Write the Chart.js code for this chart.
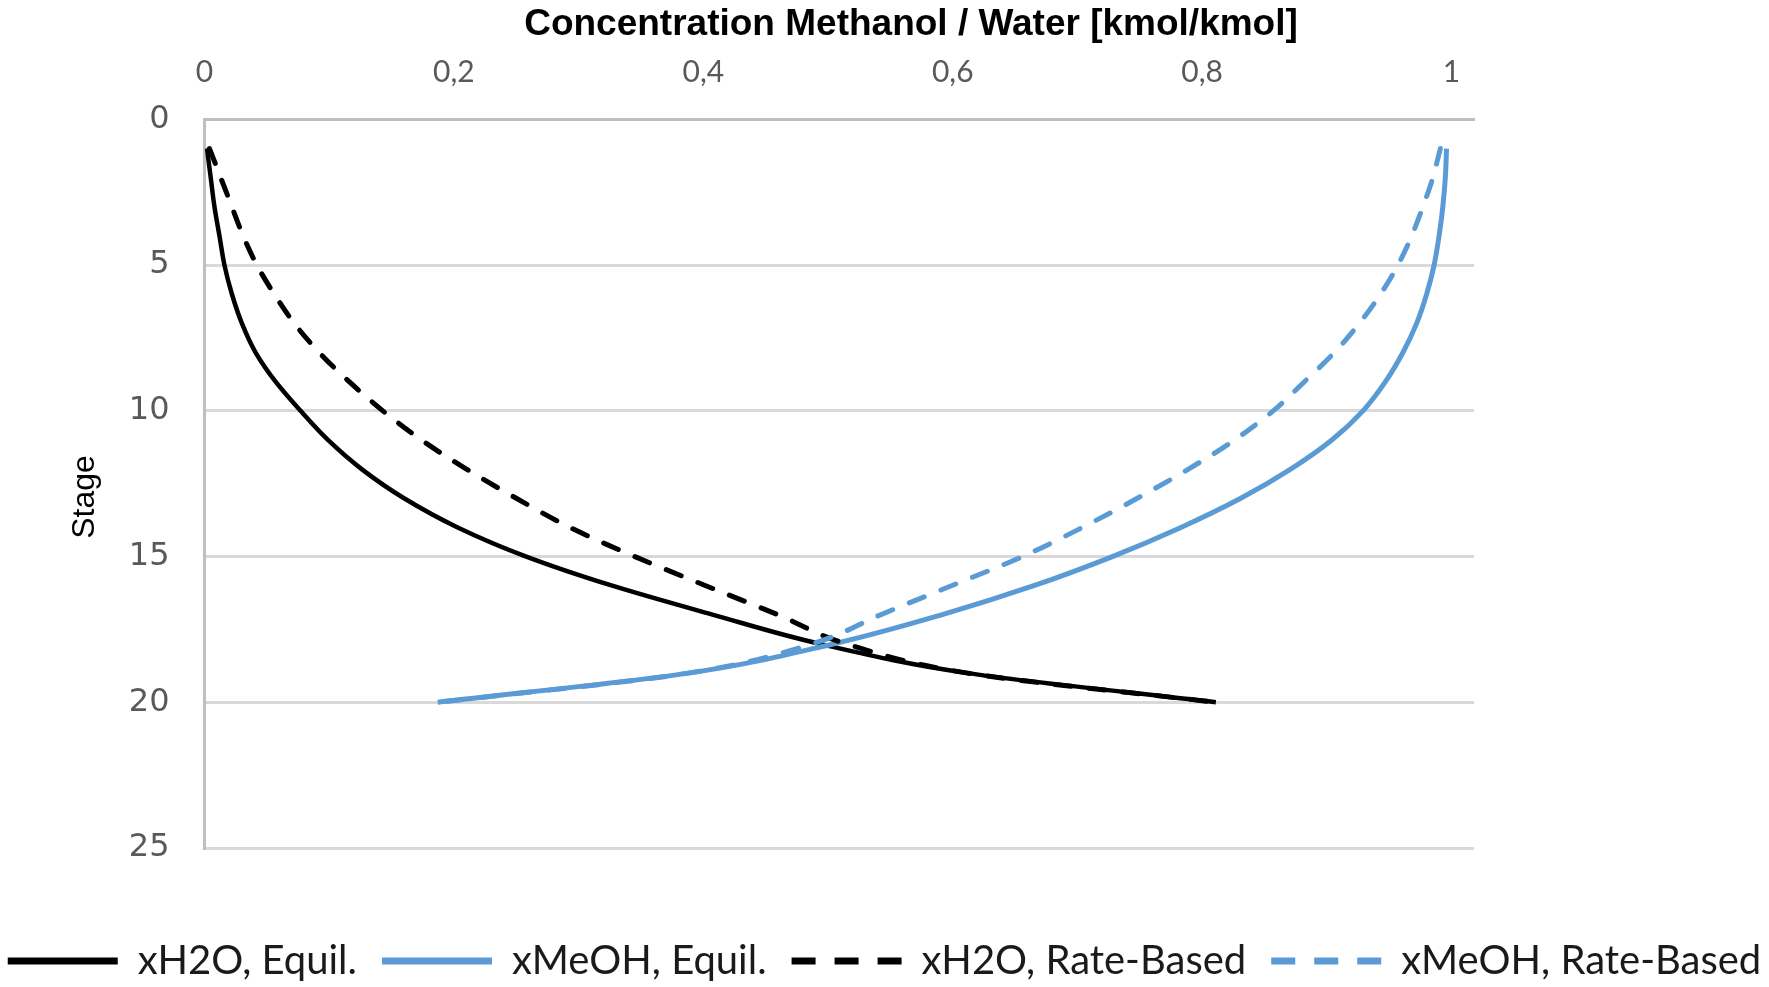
<!DOCTYPE html>
<html><head><meta charset="utf-8">
<script src="https://cdn.jsdelivr.net/npm/chart.js@4"></script>
<style>html,body{margin:0;padding:0;background:#fff;overflow:hidden}</style>
</head><body>
<canvas id="c" width="1769" height="987"></canvas>
<script>
const stages = [1,2,3,4,5,6,7,8,9,10,11,12,13,14,15,16,17,18,19,20];
const xH2O_equil  = [0.002,0.005,0.008,0.012,0.016,0.022,0.030,0.041,0.057,0.077,0.099,0.126,0.160,0.203,0.258,0.327,0.408,0.494,0.612,0.811];
const xMeOH_equil = [0.996,0.995,0.993,0.990,0.986,0.980,0.972,0.961,0.947,0.929,0.904,0.871,0.831,0.783,0.728,0.665,0.591,0.504,0.388,0.187];
const xH2O_rate   = [0.004,0.013,0.022,0.031,0.042,0.056,0.072,0.092,0.116,0.143,0.174,0.210,0.250,0.293,0.345,0.402,0.460,0.515,0.612,0.811];
const xMeOH_rate  = [0.991,0.985,0.977,0.968,0.957,0.943,0.926,0.906,0.882,0.857,0.826,0.789,0.748,0.704,0.656,0.599,0.542,0.487,0.388,0.187];
const seriesNames = ['xH2O, Equil.', 'xMeOH, Equil.', 'xH2O, Rate-Based', 'xMeOH, Rate-Based'];
const xTicks = [0, 0.2, 0.4, 0.6, 0.8, 1];
const yTicks = [0, 5, 10, 15, 20, 25];
const chartTitle = 'Concentration Methanol / Water [kmol/kmol]';
const yTitle = 'Stage';

const BLACK = '#000000', BLUE = '#5b9bd5';
const legendDash = [[], [], [24, 19], [24, 19]];

function pts(xs) { return stages.map((s, i) => ({ x: xs[i], y: s })); }

const titleShift = {
  id: 'titleShift',
  afterLayout(chart) {
    const t = chart.titleBlock;
    if (t) { t.left = 53; t.right = 1769; }
  }
};

new Chart(document.getElementById('c'), {
  type: 'line',
  data: {
    datasets: [
      { label: seriesNames[0], data: pts(xH2O_equil), borderColor: BLACK, backgroundColor: BLACK, borderWidth: 4.5, order: 3 },
      { label: seriesNames[1], data: pts(xMeOH_equil), borderColor: BLUE, backgroundColor: BLUE, borderWidth: 5, order: 2 },
      { label: seriesNames[2], data: pts(xH2O_rate), borderColor: BLACK, backgroundColor: BLACK, borderWidth: 5, borderDash: [16, 18], borderCapStyle: 'round', order: 1 },
      { label: seriesNames[3], data: pts(xMeOH_rate), borderColor: BLUE, backgroundColor: BLUE, borderWidth: 5, borderDash: [16, 18], borderCapStyle: 'round', order: 0 }
    ].map(d => Object.assign({ pointRadius: 0, pointHoverRadius: 0, cubicInterpolationMode: 'monotone', fill: false }, d))
  },
  options: {
    indexAxis: 'y',
    responsive: false,
    animation: false,
    devicePixelRatio: 1,
    events: [],
    layout: { padding: { left: -30, right: -30, top: 0, bottom: -4 } },
    scales: {
      x: {
        type: 'linear', position: 'top', min: 0, max: 1.018,
        afterBuildTicks: s => { s.ticks = xTicks.map(v => ({ value: v })); },
        ticks: {
          callback: v => String(v).replace('.', ','),
          font: { family: 'Lato', size: 30 }, color: '#595959', padding: 29, maxRotation: 0
        },
        grid: { display: false, drawTicks: false },
        border: { display: true, color: '#bfbfbf', width: 3 },
        afterFit: s => { s.height = 72; }
      },
      x2: {
        type: 'linear', position: 'bottom', min: 0, max: 1,
        ticks: { display: false }, grid: { display: false, drawTicks: false }, border: { display: false },
        afterFit: s => { s.height = 68; }
      },
      y: {
        type: 'linear', position: 'left', reverse: true, min: 0, max: 25,
        afterBuildTicks: s => { s.ticks = yTicks.map(v => ({ value: v })); },
        ticks: { font: { family: 'DejaVu Sans', size: 32 }, color: '#595959', padding: 35 },
        grid: { color: '#d9d9d9', lineWidth: 3, drawTicks: false },
        border: { display: true, color: '#bfbfbf', width: 3 },
        title: { display: true, text: yTitle + '   ', font: { family: 'Liberation Sans', size: 32 }, color: '#000', padding: { top: 96, bottom: 0 } },
        afterFit: s => { s.width = 234.5; }
      },
      y2: {
        type: 'linear', position: 'right', min: 0, max: 1,
        ticks: { display: false }, grid: { display: false, drawTicks: false }, border: { display: false },
        afterFit: s => { s.width = 325; }
      }
    },
    plugins: {
      title: {
        display: true, text: chartTitle, color: '#000',
        font: { family: 'Liberation Sans', size: 37, weight: 'bold', lineHeight: 1.2 },
        padding: { top: 3, bottom: 0 }
      },
      legend: {
        position: 'bottom',
        labels: {
          usePointStyle: true, pointStyle: 'line', pointStyleWidth: 110, padding: 25,
          font: { family: 'Lato', size: 40 }, color: '#1a1a1a',
          generateLabels(chart) {
            return chart.data.datasets.map((ds, i) => ({
              text: ds.label, fillStyle: ds.borderColor, strokeStyle: ds.borderColor,
              lineWidth: 7, lineDash: legendDash[i], lineCap: 'butt', pointStyle: 'line',
              hidden: false, datasetIndex: i, fontColor: '#1a1a1a'
            }));
          }
        }
      },
      tooltip: { enabled: false }
    }
  },
  plugins: [titleShift]
});
</script>
</body></html>
